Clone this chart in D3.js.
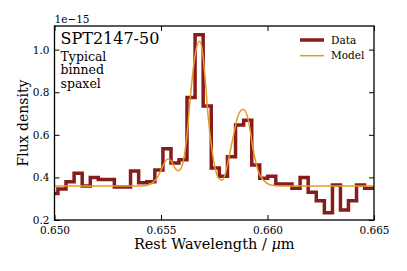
<!DOCTYPE html>
<html lang="en">
<head>
<meta charset="UTF-8">
<title>SPT2147-50 typical binned spaxel</title>
<script src="https://d3js.org/d3.v7.min.js"></script>
<style>
  body { margin: 0; background: #fff; }
  svg text { font-family: "DejaVu Serif", serif; fill: #000; }
</style>
</head>
<body>
<svg id="chart"></svg>
<script>
// binned spectrum (bin centres in micron, flux in 1e-15 units)
const binCenters = [0.64997, 0.65035, 0.65073, 0.65111, 0.65149, 0.65187, 0.65224, 0.65262,
                    0.65300, 0.65338, 0.65376, 0.65414, 0.65452, 0.65490, 0.65528, 0.65566,
                    0.65603, 0.65641, 0.65679, 0.65717, 0.65755, 0.65793, 0.65831, 0.65869,
                    0.65907, 0.65945, 0.65982, 0.66020, 0.66058, 0.66096, 0.66134, 0.66172,
                    0.66210, 0.66248, 0.66286, 0.66324, 0.66361, 0.66399, 0.66437, 0.66475,
                    0.66513];
const binFlux = [0.325, 0.345, 0.38, 0.42, 0.36, 0.40, 0.39, 0.39,
                 0.355, 0.355, 0.43, 0.375, 0.38, 0.435, 0.535, 0.468,
                 0.483, 0.775, 1.07, 0.735, 0.444, 0.405, 0.497, 0.646,
                 0.669, 0.458, 0.396, 0.406, 0.369, 0.369, 0.349, 0.40,
                 0.33, 0.29, 0.234, 0.364, 0.247, 0.29, 0.364, 0.349,
                 0.349];

// fitted model
const modelWave = [0.6500, 0.6530, 0.65401, 0.65433, 0.65464, 0.65486, 0.65505, 0.65519,
                   0.65531, 0.65547, 0.65558, 0.65570, 0.65581, 0.65594, 0.65605, 0.65621,
                   0.65636, 0.65652, 0.65668, 0.65680, 0.65691, 0.65707, 0.65722, 0.65738,
                   0.65754, 0.65768, 0.65786, 0.65800, 0.65816, 0.65839, 0.65863, 0.65886,
                   0.65910, 0.65933, 0.65957, 0.65980, 0.66012, 0.66059, 0.6630, 0.6650];
const modelFlux = [0.36, 0.36, 0.36, 0.362, 0.378, 0.405, 0.445, 0.473,
                   0.486, 0.478, 0.458, 0.438, 0.431, 0.442, 0.478, 0.59,
                   0.757, 0.914, 1.015, 1.039, 1.015, 0.867, 0.679, 0.538,
                   0.444, 0.40, 0.387, 0.41, 0.48, 0.59, 0.693, 0.72,
                   0.669, 0.529, 0.427, 0.388, 0.366, 0.36, 0.36, 0.36];

const xTicks = [0.650, 0.655, 0.660, 0.665];
const yTicks = [0.2, 0.4, 0.6, 0.8, 1.0];
const seriesNames = ["Data", "Model"];
const seriesColors = ["#861c1c", "#e59c24"];
const noteLines = ["Typical", "binned", "spaxel"];

const W = 407, H = 271;
const margin = { top: 26, right: 33, bottom: 51, left: 54.5 };
const width = W - margin.left - margin.right;
const height = H - margin.top - margin.bottom;

const svg = d3.select("#chart").attr("width", W).attr("height", H);
const g = svg.append("g").attr("transform", `translate(${margin.left},${margin.top})`);

const x = d3.scaleLinear().domain([0.650, 0.665]).range([0, width]);
const y = d3.scaleLinear().domain([0.2, 1.111]).range([height, 0]);

g.append("clipPath").attr("id", "plot-clip")
  .append("rect").attr("width", width).attr("height", height);

const plot = g.append("g").attr("clip-path", "url(#plot-clip)");

const dataLine = d3.line()
  .x((d, i) => x(binCenters[i]))
  .y(d => y(d))
  .curve(d3.curveStep);

plot.append("path")
  .attr("d", dataLine(binFlux))
  .attr("fill", "none")
  .attr("stroke", seriesColors[0])
  .attr("stroke-width", 3.5)
  .attr("stroke-linejoin", "miter");

const modelLine = d3.line()
  .x((d, i) => x(modelWave[i]))
  .y(d => y(d))
  .curve(d3.curveMonotoneX);

plot.append("path")
  .attr("d", modelLine(modelFlux))
  .attr("fill", "none")
  .attr("stroke", seriesColors[1])
  .attr("stroke-width", 1.5);

// axes, ticks pointing inwards on all four sides
const tickLen = 5;
const xAxis = g.append("g")
  .attr("transform", `translate(0,${height})`)
  .call(d3.axisBottom(x).tickValues(xTicks).tickFormat(d3.format(".3f"))
    .tickSizeInner(-tickLen).tickSizeOuter(0).tickPadding(7));
g.append("g")
  .call(d3.axisTop(x).tickValues(xTicks).tickFormat("")
    .tickSizeInner(-tickLen).tickSizeOuter(0));
const yAxis = g.append("g")
  .call(d3.axisLeft(y).tickValues(yTicks).tickFormat(d3.format(".1f"))
    .tickSizeInner(-tickLen).tickSizeOuter(0).tickPadding(5));
g.append("g")
  .attr("transform", `translate(${width},0)`)
  .call(d3.axisRight(y).tickValues(yTicks).tickFormat("")
    .tickSizeInner(-tickLen).tickSizeOuter(0));

g.selectAll(".domain").remove();
g.selectAll(".tick line").attr("stroke", "#000").attr("stroke-width", 1);
xAxis.selectAll("text").style("font-size", "10.5px").attr("dy", "0.71em");
yAxis.selectAll("text").style("font-size", "10.5px");

g.append("rect")
  .attr("width", width).attr("height", height)
  .attr("fill", "none").attr("stroke", "#000").attr("stroke-width", 1.3);

// offset text
g.append("text")
  .attr("x", 0).attr("y", -3)
  .style("font-size", "10.5px")
  .text("1e\u221215");

// axis labels
svg.append("text")
  .attr("x", margin.left + width / 2).attr("y", 249)
  .attr("text-anchor", "middle")
  .style("font-size", "14.5px")
  .html("Rest Wavelength / <tspan font-style=\"italic\">\u03bc</tspan>m");

svg.append("text")
  .attr("transform", `translate(28,${margin.top + height / 2}) rotate(-90)`)
  .attr("text-anchor", "middle")
  .style("font-size", "14px")
  .text("Flux density");

// annotation
g.append("text")
  .attr("x", 6).attr("y", 18)
  .style("font-size", "16px")
  .text("SPT2147-50");

g.selectAll(".note")
  .data(noteLines)
  .enter()
  .append("text")
  .attr("class", "note")
  .attr("x", 6)
  .attr("y", (_, i) => 34.5 + i * 13.5)
  .style("font-size", "12.5px")
  .text(d => d);

// legend
const legend = svg.selectAll(".legend")
  .data(seriesNames)
  .enter()
  .append("g")
  .attr("class", "legend")
  .attr("transform", (_, i) => `translate(300,${40 + i * 15.7})`);

legend.append("line")
  .attr("x1", 0).attr("x2", 24)
  .attr("stroke", (d, i) => seriesColors[i])
  .attr("stroke-width", (d, i) => i === 0 ? 3.5 : 1.5);

legend.append("text")
  .attr("x", 31).attr("dy", "0.35em")
  .style("font-size", "10.5px")
  .text(d => d);
</script>
</body>
</html>
